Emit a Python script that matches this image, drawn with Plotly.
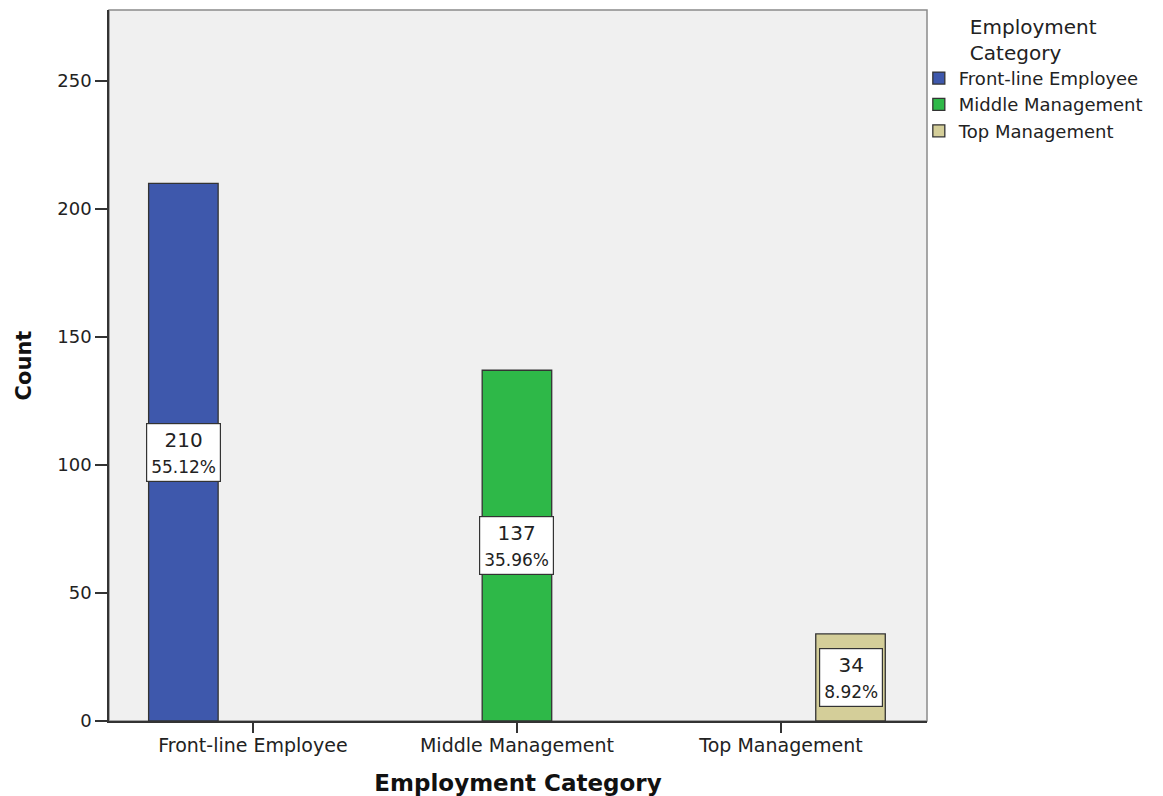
import plotly.graph_objects as go

categories = ["Front-line Employee", "Middle Management", "Top Management"]
counts = [210, 137, 34]
percent_labels = ["55.12%", "35.96%", "8.92%"]
colors = ["#3E58AC", "#2EB848", "#D4CE99"]
y_ticks = [0, 50, 100, 150, 200, 250]

FONT = "DejaVu Sans"
BARGAP = 0.21

fig = go.Figure()
for i, (cat, cnt, col) in enumerate(zip(categories, counts, colors)):
    fig.add_trace(go.Bar(
        x=[cat], y=[cnt], name=cat, offsetgroup=str(i),
        marker=dict(color=col, line=dict(color="#333333", width=1.3)),
    ))

n = len(categories)
slot = (1 - BARGAP) / n
for i, (cnt, pct) in enumerate(zip(counts, percent_labels)):
    fig.add_annotation(
        x=i + (i - (n - 1) / 2) * slot, y=cnt / 2, xref="x", yref="y",
        text=f"{cnt}<br><span style='font-size:17px'>{pct}</span>",
        showarrow=False, bgcolor="white", bordercolor="#333333", borderwidth=1.2,
        borderpad=4, font=dict(family=FONT, size=20, color="#222"),
    )

# outer frame (gray top/right border)
fig.add_shape(type="rect", xref="paper", yref="paper", x0=0, y0=0, x1=1, y1=1,
              line=dict(color="#8a8a8a", width=1.5), layer="below")

fig.update_layout(
    width=1163, height=796,
    margin=dict(l=109, r=236, t=10, b=75, autoexpand=False),
    paper_bgcolor="white", plot_bgcolor="#F0F0F0",
    barmode="group", bargap=BARGAP, bargroupgap=0,
    font=dict(family=FONT, size=17, color="#222"),
    showlegend=True,
    legend=dict(
        title=dict(text="Employment<br>Category", side="top center",
                   font=dict(family=FONT, size=20, color="#222")),
        x=0.99, xanchor="left", y=1.003, yanchor="top",
        font=dict(family=FONT, size=18, color="#222"),
        bgcolor="rgba(0,0,0,0)", itemwidth=30, tracegroupgap=0,
    ),
    xaxis=dict(
        type="category", range=[-0.545, 2.553], automargin=False,
        showline=True, linecolor="#333", linewidth=1.5,
        ticks="outside", ticklen=10, tickcolor="#333", tickwidth=1.5,
        ticklabelstandoff=-4,
        tickfont=dict(family=FONT, size=19, color="#222"),
        title=dict(text="<b>Employment Category</b>", standoff=20,
                   font=dict(family=FONT, size=23, color="#111")),
        showgrid=False, zeroline=False, fixedrange=True,
    ),
    yaxis=dict(
        range=[0, 277.7], tickvals=y_ticks, automargin=False,
        showline=True, linecolor="#333", linewidth=1.5,
        ticks="outside", ticklen=12, tickcolor="#333", tickwidth=1.5,
        tickfont=dict(family=FONT, size=18, color="#222"),
        title=dict(text="<b>Count</b>", standoff=20,
                   font=dict(family=FONT, size=21, color="#111")),
        showgrid=False, zeroline=False,
    ),
)

fig.write_html("out.html")
